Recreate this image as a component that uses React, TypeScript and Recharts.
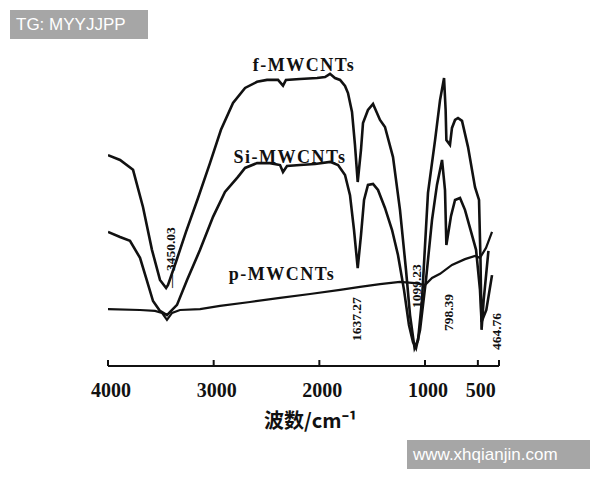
import React from 'react';
import { LineChart, Line, XAxis, YAxis, ReferenceDot } from 'recharts';

// wavenumber (cm-1) / transmittance (arbitrary %)
const fMwcnts = [
  { w: 4000, t: 65.9 }, { w: 3886, t: 64.4 }, { w: 3763, t: 61.3 }, { w: 3669, t: 49.7 },
  { w: 3584, t: 36.3 }, { w: 3508, t: 26.9 }, { w: 3450, t: 24.4 }, { w: 3432, t: 25.3 },
  { w: 3357, t: 32.5 }, { w: 3262, t: 41.9 }, { w: 3148, t: 52.5 }, { w: 3035, t: 63.4 },
  { w: 2931, t: 73.8 }, { w: 2817, t: 82.2 }, { w: 2703, t: 86.9 }, { w: 2590, t: 88.8 },
  { w: 2495, t: 89.4 }, { w: 2391, t: 89.4 }, { w: 2344, t: 87.6 }, { w: 2316, t: 89.4 },
  { w: 2183, t: 89.7 }, { w: 2022, t: 90.0 }, { w: 1946, t: 90.3 }, { w: 1899, t: 91.3 },
  { w: 1852, t: 90.0 }, { w: 1804, t: 89.4 }, { w: 1757, t: 87.5 }, { w: 1729, t: 85.3 },
  { w: 1691, t: 79.4 }, { w: 1663, t: 69.1 }, { w: 1637, t: 57.5 }, { w: 1606, t: 67.5 },
  { w: 1587, t: 75.9 }, { w: 1540, t: 80.0 }, { w: 1492, t: 81.9 }, { w: 1426, t: 76.9 },
  { w: 1379, t: 74.7 }, { w: 1303, t: 65.3 }, { w: 1237, t: 48.8 }, { w: 1180, t: 30.0 },
  { w: 1142, t: 15.9 }, { w: 1099, t: 5.6 }, { w: 1066, t: 8.1 }, { w: 1029, t: 20.6 },
  { w: 972, t: 54.1 }, { w: 905, t: 70.6 }, { w: 858, t: 83.1 }, { w: 820, t: 90.0 },
  { w: 805, t: 80.0 }, { w: 798, t: 70.6 }, { w: 764, t: 69.1 }, { w: 745, t: 74.4 },
  { w: 716, t: 76.9 }, { w: 688, t: 77.5 }, { w: 650, t: 76.6 }, { w: 593, t: 68.4 },
  { w: 527, t: 55.9 }, { w: 489, t: 51.9 }, { w: 475, t: 33.0 }, { w: 465, t: 11.3 },
  { w: 445, t: 20.6 }, { w: 400, t: 36.0 },
];

const siMwcnts = [
  { w: 4000, t: 41.9 }, { w: 3886, t: 40.3 }, { w: 3792, t: 39.1 }, { w: 3697, t: 33.8 },
  { w: 3631, t: 26.6 }, { w: 3574, t: 20.3 }, { w: 3508, t: 17.2 }, { w: 3442, t: 15.9 },
  { w: 3347, t: 19.1 }, { w: 3252, t: 26.9 }, { w: 3129, t: 36.3 }, { w: 3006, t: 46.6 },
  { w: 2893, t: 54.4 }, { w: 2770, t: 59.1 }, { w: 2703, t: 61.9 }, { w: 2590, t: 63.4 },
  { w: 2467, t: 63.4 }, { w: 2372, t: 62.8 }, { w: 2344, t: 60.6 }, { w: 2306, t: 62.5 },
  { w: 2183, t: 62.8 }, { w: 2041, t: 63.1 }, { w: 1899, t: 63.8 }, { w: 1823, t: 62.8 },
  { w: 1757, t: 59.7 }, { w: 1710, t: 53.4 }, { w: 1672, t: 42.5 }, { w: 1637, t: 30.6 },
  { w: 1606, t: 40.9 }, { w: 1577, t: 51.9 }, { w: 1540, t: 56.6 }, { w: 1492, t: 56.9 },
  { w: 1445, t: 55.0 }, { w: 1379, t: 49.4 }, { w: 1312, t: 42.5 }, { w: 1256, t: 34.7 },
  { w: 1199, t: 23.8 }, { w: 1152, t: 12.8 }, { w: 1114, t: 7.5 }, { w: 1085, t: 5.6 },
  { w: 1047, t: 11.3 }, { w: 991, t: 26.9 }, { w: 934, t: 45.6 }, { w: 887, t: 56.6 },
  { w: 839, t: 64.4 }, { w: 811, t: 55.0 }, { w: 798, t: 37.8 }, { w: 754, t: 46.9 },
  { w: 716, t: 51.9 }, { w: 669, t: 52.5 }, { w: 622, t: 48.8 }, { w: 574, t: 43.1 },
  { w: 517, t: 36.3 }, { w: 480, t: 23.8 }, { w: 465, t: 13.8 }, { w: 420, t: 17.5 },
  { w: 366, t: 28.4 },
];

const pMwcnts = [
  { w: 4000, t: 17.8 }, { w: 3697, t: 17.5 }, { w: 3555, t: 17.2 }, { w: 3489, t: 16.6 },
  { w: 3442, t: 14.4 }, { w: 3394, t: 16.6 }, { w: 3319, t: 17.5 }, { w: 3129, t: 17.8 },
  { w: 2940, t: 18.8 }, { w: 2656, t: 20.0 }, { w: 2372, t: 21.3 }, { w: 2088, t: 22.5 },
  { w: 1804, t: 23.8 }, { w: 1615, t: 24.7 }, { w: 1426, t: 25.6 }, { w: 1237, t: 26.3 },
  { w: 1095, t: 25.9 }, { w: 1000, t: 25.3 }, { w: 934, t: 27.5 }, { w: 858, t: 28.8 },
  { w: 745, t: 31.6 }, { w: 622, t: 33.4 }, { w: 527, t: 34.4 }, { w: 480, t: 33.8 },
  { w: 423, t: 36.9 }, { w: 366, t: 41.9 },
];

const xTicks = [4000, 3000, 2000, 1000, 500, 300];
const xTickLabels: Record<number, string> = { 4000: '4000', 3000: '3000', 2000: '2000', 1000: '1000', 500: '500', 300: '' };

// series names, placed at (wavenumber, transmittance)
const seriesLabels = [
  { text: 'f-MWCNTs', w: 2145, t: 94.1 },
  { text: 'Si-MWCNTs', w: 2278, t: 65.3 },
  { text: 'p-MWCNTs', w: 2353, t: 28.8 },
];

// rotated peak labels, anchored at their lower end
const peakLabels = [
  { text: '— 3450.03', w: 3410, t: 24.4 },
  { text: '1637.27', w: 1644, t: 7.8 },
  { text: '1099.23', w: 1085, t: 18.1 },
  { text: '798.39', w: 782, t: 10.9 },
  { text: '464.76', w: 322, t: 5.0 },
];

const serif = '"Liberation Serif", "DejaVu Serif", serif';

const AxisTick = (props: any) => {
  const { x, y, payload } = props;
  return (
    <g>
      <line x1={x} y1={y} x2={x} y2={y - 6} stroke="#111" strokeWidth={2} />
      <text x={x + 3} y={y + 31} textAnchor="middle" fontFamily={serif} fontWeight="bold" fontSize={20} fill="#111">
        {xTickLabels[payload.value]}
      </text>
    </g>
  );
};

const nameShape = (text: string) => (p: any) => (
  <text x={p.cx} y={p.cy} textAnchor="middle" dominantBaseline="central" fontFamily={serif}
    fontWeight="bold" fontSize={18} letterSpacing={1.5} fill="#111">
    {text}
  </text>
);

const peakShape = (text: string) => (p: any) => (
  <text x={p.cx} y={p.cy} transform={`rotate(-90 ${p.cx} ${p.cy})`} textAnchor="start"
    dominantBaseline="central" fontFamily={serif} fontSize={13.5} fontWeight="bold" fill="#111">
    {text}
  </text>
);

const badge: React.CSSProperties = {
  position: 'absolute',
  background: '#a6a6a6',
  color: '#fff',
  fontFamily: '"Liberation Sans", Arial, sans-serif',
  fontSize: 17,
  lineHeight: '29px',
  height: 29,
  paddingLeft: 6,
  boxSizing: 'border-box',
};

export default function App() {
  return (
    <div style={{ position: 'absolute', left: 0, top: 0, width: 600, height: 480, background: '#fff' }}>
      <LineChart width={600} height={480} margin={{ top: 46, right: 101, bottom: 50, left: 108 }}>
        <XAxis
          type="number"
          dataKey="w"
          domain={[300, 4000]}
          reversed
          ticks={xTicks}
          interval={0}
          allowDataOverflow
          height={64}
          tickSize={0}
          tickMargin={0}
          tick={<AxisTick />}
          axisLine={{ stroke: '#111', strokeWidth: 2 }}
          label={{
            value: '波数/cm⁻¹',
            position: 'insideBottom',
            offset: 2,
            dx: 7,
            style: { fontFamily: '"Noto Sans CJK SC", serif', fontWeight: 'bold', fontSize: 20, fill: '#111' },
          }}
        />
        <YAxis hide type="number" domain={[0, 100]} />
        <Line data={fMwcnts} dataKey="t" type="linear" stroke="#111" strokeWidth={2.6} dot={false} isAnimationActive={false} />
        <Line data={siMwcnts} dataKey="t" type="linear" stroke="#111" strokeWidth={2.6} dot={false} isAnimationActive={false} />
        <Line data={pMwcnts} dataKey="t" type="linear" stroke="#111" strokeWidth={2.2} dot={false} isAnimationActive={false} />
        {seriesLabels.map((l) => (
          <ReferenceDot key={l.text} x={l.w} y={l.t} r={0} ifOverflow="visible" shape={nameShape(l.text)} />
        ))}
        {peakLabels.map((l) => (
          <ReferenceDot key={l.text} x={l.w} y={l.t} r={0} ifOverflow="visible" shape={peakShape(l.text)} />
        ))}
      </LineChart>
      <div style={{ ...badge, left: 10, top: 10, width: 138 }}>TG: MYYJJPP</div>
      <div style={{ ...badge, left: 407, top: 440, width: 183 }}>www.xhqianjin.com</div>
    </div>
  );
}
